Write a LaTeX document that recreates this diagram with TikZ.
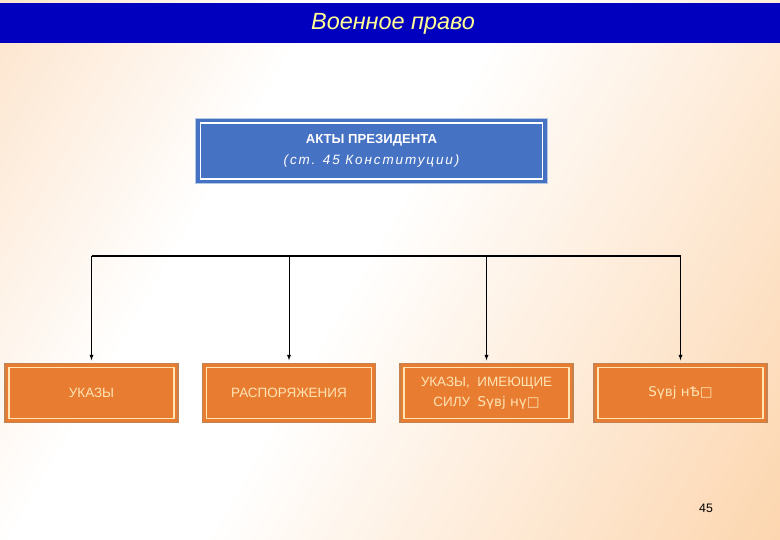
\documentclass[tikz,border=0pt]{standalone}
\usepackage{fontspec}
\setmainfont{Liberation Sans}
\newfontfamily\symfont{DejaVu Sans}
\usetikzlibrary{positioning}

\definecolor{barblue}{RGB}{0,0,190}
\definecolor{titleyellow}{RGB}{255,255,150}
\definecolor{bgpeach}{RGB}{251,208,166}
\definecolor{bgorange}{RGB}{251,196,140}
\definecolor{actblue}{RGB}{70,114,196}
\definecolor{actedge}{RGB}{180,200,228}
\definecolor{boxorange}{RGB}{232,125,50}
\definecolor{boxedge}{RGB}{196,130,80}
\definecolor{boxcream}{RGB}{255,228,180}

\pgfdeclarehorizontalshading{slidebg}{100bp}{color(0bp)=(bgpeach); color(36bp)=(white); color(48bp)=(white); color(100bp)=(bgorange)}

\begin{document}
\begin{tikzpicture}[
  x=0.03cm, y=-0.03cm,
  titletxt/.style={font=\itshape\fontsize{20}{24}\selectfont, text=titleyellow},
  actbox/.style={draw=actedge, line width=0.8pt, fill=actblue,
                 minimum width=10.55cm, minimum height=1.95cm,
                 align=center, text=white, inner sep=0pt,
                 path picture={\draw[white, line width=1.4pt]
                   ([shift={(4pt,4pt)}]path picture bounding box.south west) rectangle
                   ([shift={(-4pt,-4pt)}]path picture bounding box.north east);}},
  kindbox/.style={draw=boxedge, line width=1.2pt, fill=boxorange,
                  minimum width=5.2cm, minimum height=1.78cm,
                  align=center, text=boxcream, inner sep=0pt,
                  font=\fontsize{11.5}{17}\selectfont,
                  path picture={\draw[boxcream, line width=1.2pt]
                    ([shift={(3.5pt,3.5pt)}]path picture bounding box.south west) rectangle
                    ([shift={(-3.5pt,-3.5pt)}]path picture bounding box.north east);}},
  bus/.style={line width=1.6pt},
  feed/.style={-latex, line width=0.6pt},
]
  \useasboundingbox (0,0) rectangle (780,540);
  % background and title bar
  \shade[shading=slidebg, shading angle=-30] (0,0) rectangle (780,540);
  \fill[barblue] (0,3) rectangle (780,43);
  \node[titletxt] (ttl) at (393,24) {Военное право};

  % acts of the president
  \node[actbox] (acts) at (371.5,151)
    {{\bfseries\fontsize{11.2}{13}\selectfont АКТЫ ПРЕЗИДЕНТА}\\[6pt]
     {\itshape\addfontfeature{LetterSpace=14}\fontsize{11.5}{13}\selectfont (ст. 45 Конституции)}};

  % kinds of acts
  \node[kindbox] (ukaz)  at (91.5,393)  {УКАЗЫ};
  \node[kindbox] (rasp)  at (289,393)   {РАСПОРЯЖЕНИЯ};
  \node[kindbox] (ukzak) at (486.5,393) {УКАЗЫ,\ \ ИМЕЮЩИЕ\\СИЛУ \ {\symfont Ѕүвј нү□}};
  \node[kindbox] (other) at (680.5,393) {{\symfont Ѕүвј нѢ□}};

  % bus line and arrows
  \coordinate (b1) at (ukaz.north  |- 0,256);
  \coordinate (b2) at (rasp.north  |- 0,256);
  \coordinate (b3) at (ukzak.north |- 0,256);
  \coordinate (b4) at (other.north |- 0,256);
  \draw[bus] (b1) -- (b4);
  \foreach \b/\n in {b1/ukaz, b2/rasp, b3/ukzak, b4/other}
    \draw[feed] (\b) -- ([yshift=2pt]\n.north);

  % page number
  \node[font=\fontsize{10.5}{12}\selectfont] (pnum) at (706,508) {45};
\end{tikzpicture}
\end{document}
